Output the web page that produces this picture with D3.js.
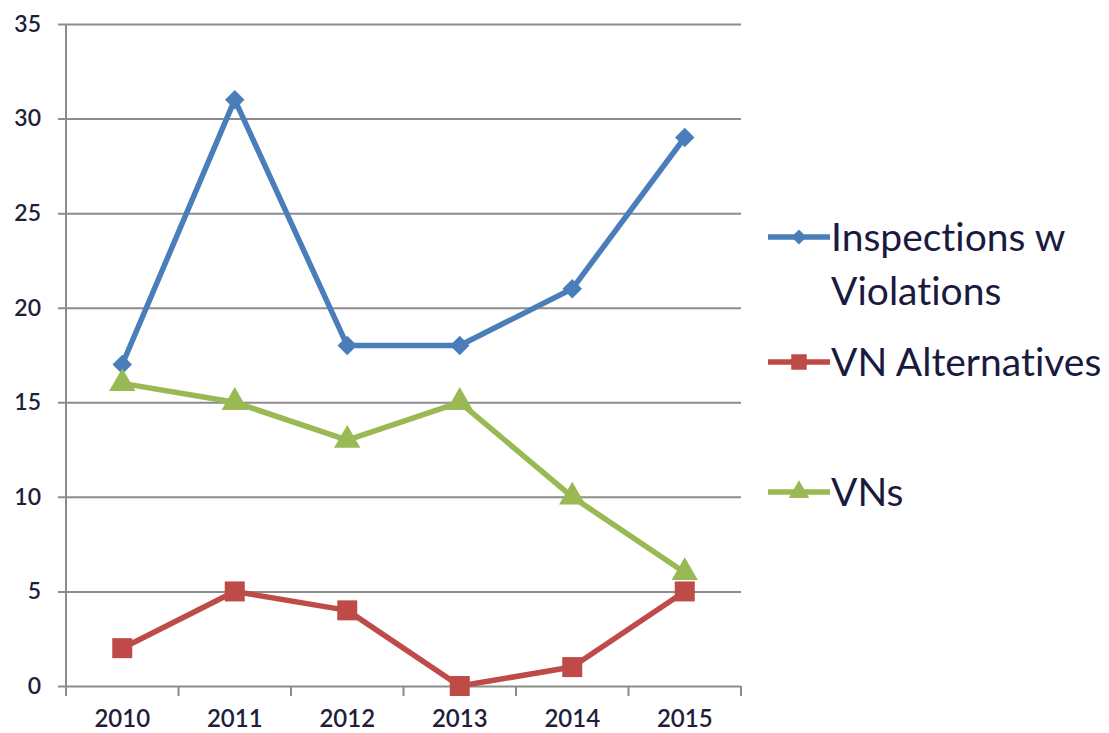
<!DOCTYPE html>
<html>
<head>
<meta charset="utf-8">
<script src="https://cdn.jsdelivr.net/npm/d3@7"></script>
<style>
  body { margin: 0; background: #fff; }
  text { font-family: Lato, "Open Sans", sans-serif; font-variant-ligatures: none; }
</style>
</head>
<body>
<div id="chart"></div>
<script>
var years = ["2010", "2011", "2012", "2013", "2014", "2015"];
var inspections = [17, 31, 18, 18, 21, 29];
var alternatives = [2, 5, 4, 0, 1, 5];
var vns = [16, 15, 13, 15, 10, 6];
var yTicks = [0, 5, 10, 15, 20, 25, 30, 35];

var series = [
  {name: ["Inspections w", "Violations"], values: inspections, color: "#4a7ebb", symbol: d3.symbolSquare, rot: 45, size: 190, legendY: 237},
  {name: ["VN Alternatives"], values: alternatives, color: "#be4b48", symbol: d3.symbolSquare, rot: 0, size: 400, legendY: 362},
  {name: ["VNs"], values: vns, color: "#98b954", symbol: d3.symbolTriangle, rot: 0, size: 300, legendY: 492}
];

var W = 1109, H = 733;
var plotL = 66, plotR = 741, plotT = 24, plotB = 686;

var svg = d3.select("#chart").append("svg").attr("width", W).attr("height", H);

var x = d3.scaleBand().domain(years).range([plotL, plotR]);
var y = d3.scaleLinear().domain([0, 35]).range([plotB, plotT]);

// gridlines + y ticks
var yAxis = d3.axisLeft(y).tickValues(yTicks).tickSize(-(plotR - plotL + 8)).tickPadding(17).tickFormat(d3.format("d"));
var gy = svg.append("g").attr("transform", "translate(" + (plotL - 8) + ",0)").call(yAxis);
gy.select(".domain").remove();
gy.selectAll(".tick line").attr("stroke", "#8c8c8c").attr("stroke-width", 2);
gy.selectAll(".tick text").attr("fill", "#1f1f3a").style("font-size", "23px").style("font-weight", "600");

// vertical axis line
svg.append("line").attr("x1", plotL).attr("x2", plotL).attr("y1", plotT).attr("y2", plotB + 10)
  .attr("stroke", "#8c8c8c").attr("stroke-width", 2);

// x axis
var xAxis = d3.axisBottom(x).tickSize(0).tickPadding(24);
var gx = svg.append("g").attr("transform", "translate(0," + plotB + ")").call(xAxis);
gx.select(".domain").remove();
gx.selectAll(".tick text").attr("fill", "#1f1f3a").style("font-size", "24px").style("font-weight", "600");
// x tick marks at band boundaries
svg.append("g").selectAll("line").data(years.concat(["end"])).enter().append("line")
  .attr("x1", function (d, i) { return plotL + i * x.step(); })
  .attr("x2", function (d, i) { return plotL + i * x.step(); })
  .attr("y1", plotB).attr("y2", plotB + 10)
  .attr("stroke", "#8c8c8c").attr("stroke-width", 2);

var cx = function (d, i) { return x(years[i]) + x.bandwidth() / 2; };
var line = d3.line().x(cx).y(function (d) { return y(d); });

series.forEach(function (s) {
  svg.append("path").datum(s.values).attr("d", line)
    .attr("fill", "none").attr("stroke", s.color).attr("stroke-width", 5.5).attr("stroke-linejoin", "round");
});
series.forEach(function (s) {
  svg.append("g").selectAll("path").data(s.values).enter().append("path")
    .attr("d", d3.symbol().type(s.symbol).size(s.size))
    .attr("transform", function (d, i) { return "translate(" + cx(d, i) + "," + y(d) + ") rotate(" + s.rot + ")"; })
    .attr("fill", s.color);
});

// legend
var lg = svg.append("g");
series.forEach(function (s) {
  lg.append("line").attr("x1", 768).attr("x2", 830).attr("y1", s.legendY).attr("y2", s.legendY)
    .attr("stroke", s.color).attr("stroke-width", 5.5);
  lg.append("path").attr("d", d3.symbol().type(s.symbol).size(s.size * 0.6))
    .attr("transform", "translate(799," + s.legendY + ") rotate(" + s.rot + ")").attr("fill", s.color);
  s.name.forEach(function (t, j) {
    lg.append("text").attr("x", 831).attr("y", s.legendY + 14 + j * 54)
      .attr("fill", "#1a1a40").style("font-size", "39px").text(t);
  });
});
</script>
</body>
</html>
